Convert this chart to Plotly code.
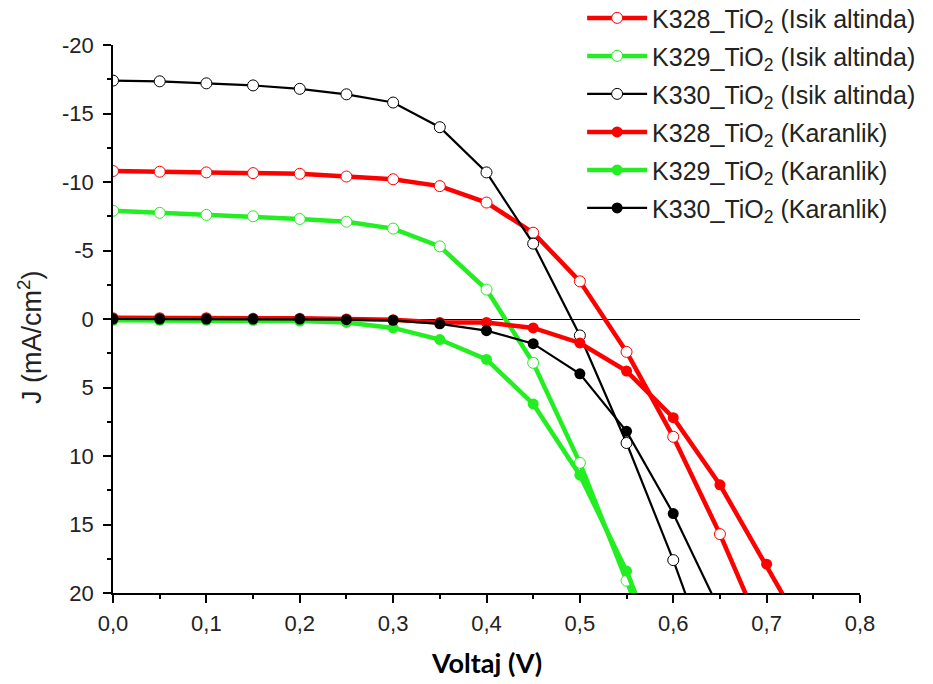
import plotly.graph_objects as go

voltage = [0.0, 0.05, 0.1, 0.15, 0.2, 0.25, 0.3, 0.35, 0.4, 0.45, 0.5, 0.55, 0.6, 0.65, 0.7, 0.75]

k328_light = [-10.8, -10.75, -10.7, -10.65, -10.6, -10.4, -10.2, -9.7, -8.5, -6.3, -2.75, 2.4, 8.6, 15.7, 23.6, None]
k329_light = [-7.9, -7.75, -7.6, -7.5, -7.3, -7.1, -6.6, -5.3, -2.15, 3.2, 10.5, 19.1, 28.0, None, None, None]
k330_light = [-17.4, -17.35, -17.2, -17.05, -16.8, -16.4, -15.8, -14.0, -10.7, -5.5, 1.2, 9.05, 17.6, 27.0, None, None]
k328_dark = [-0.1, -0.1, -0.1, -0.05, -0.05, 0.0, 0.05, 0.25, 0.25, 0.65, 1.75, 3.8, 7.2, 12.1, 17.9, 24.0]
k329_dark = [0.1, 0.1, 0.1, 0.1, 0.15, 0.25, 0.65, 1.5, 2.95, 6.2, 11.4, 18.4, 27.0, None, None, None]
k330_dark = [0.0, 0.0, 0.0, 0.0, 0.0, 0.05, 0.1, 0.35, 0.85, 1.8, 4.0, 8.2, 14.2, 21.3, None, None]

names = [
    "K328_TiO<sub>2</sub> (Isik altinda)",
    "K329_TiO<sub>2</sub> (Isik altinda)",
    "K330_TiO<sub>2</sub> (Isik altinda)",
    "K328_TiO<sub>2</sub> (Karanlik)",
    "K329_TiO<sub>2</sub> (Karanlik)",
    "K330_TiO<sub>2</sub> (Karanlik)",
]
series = [k328_light, k329_light, k330_light, k328_dark, k329_dark, k330_dark]
colors = ["#ff0000", "#22ee22", "#000000", "#ff0000", "#22ee22", "#000000"]
widths = [4.5, 4.5, 2.2, 4.5, 4.5, 2.2]
filled = [False, False, False, True, True, True]

x_ticks = [0.0, 0.1, 0.2, 0.3, 0.4, 0.5, 0.6, 0.7, 0.8]
x_labels = ["0,0", "0,1", "0,2", "0,3", "0,4", "0,5", "0,6", "0,7", "0,8"]
y_ticks = [-20, -15, -10, -5, 0, 5, 10, 15, 20]
y_labels = ["-20", "-15", "-10", "-5", "0", "5", "10", "15", "20"]

fig = go.Figure()
for i, (name, ys, c, w, f) in enumerate(zip(names, series, colors, widths, filled)):
    fig.add_trace(go.Scatter(
        x=voltage, y=ys, name=name, mode="lines+markers",
        legendgroup=f"g{i}",
        line=dict(color=c, width=w),
        marker=dict(symbol="circle", size=11,
                    color=c if f else "white",
                    line=dict(color=c, width=0 if f else 1)),
        connectgaps=False,
    ))

sans = "Liberation Sans, Arial, sans-serif"
axis_font = dict(family=sans, size=22, color="#222")

fig.update_layout(
    width=933, height=684,
    margin=dict(l=113, r=73, t=45, b=91, autoexpand=False),
    paper_bgcolor="white", plot_bgcolor="white",
    hovermode=False,
    font=dict(family=sans, size=22, color="#222"),
    legend=dict(
        x=0.628, y=1.091, xanchor="left", yanchor="top",
        bgcolor="rgba(0,0,0,0)", font=dict(family=sans, size=25, color="#222"),
        itemwidth=60, tracegroupgap=2.5,
    ),
    xaxis=dict(
        range=[0, 0.8], tickmode="array", tickvals=x_ticks, ticktext=x_labels,
        showgrid=False, zeroline=False,
        showline=True, linecolor="black", linewidth=1.5,
        ticks="outside", ticklen=8, tickwidth=1.5, tickcolor="black",
        minor=dict(tickmode="linear", tick0=0, dtick=0.05, ticklen=4, tickwidth=1.5,
                   tickcolor="black", ticks="outside"),
        tickfont=axis_font, ticklabelstandoff=2,
    ),
    yaxis=dict(
        range=[20, -20], tickmode="array", tickvals=y_ticks, ticktext=y_labels,
        showgrid=False,
        zeroline=True, zerolinecolor="black", zerolinewidth=1,
        showline=True, linecolor="black", linewidth=1.5,
        ticks="outside", ticklen=8, tickwidth=1.5, tickcolor="black",
        minor=dict(tickmode="linear", tick0=0, dtick=2.5, ticklen=4, tickwidth=1.5,
                   tickcolor="black", ticks="outside"),
        tickfont=axis_font, ticklabelstandoff=5,
    ),
    annotations=[
        dict(text="<b>Voltaj (V)</b>", xref="paper", yref="paper", x=0.5, y=0,
             xanchor="center", yanchor="middle", yshift=-69, showarrow=False,
             font=dict(family="Lato, Open Sans, sans-serif", size=27, color="black")),
        dict(text="J (mA/cm<sup>2</sup>)", xref="paper", yref="paper", x=0, y=0.467,
             xanchor="center", yanchor="middle", xshift=-83, textangle=-90, showarrow=False,
             font=dict(family=sans, size=27, color="#222")),
    ],
)

fig.write_html("out.html")
